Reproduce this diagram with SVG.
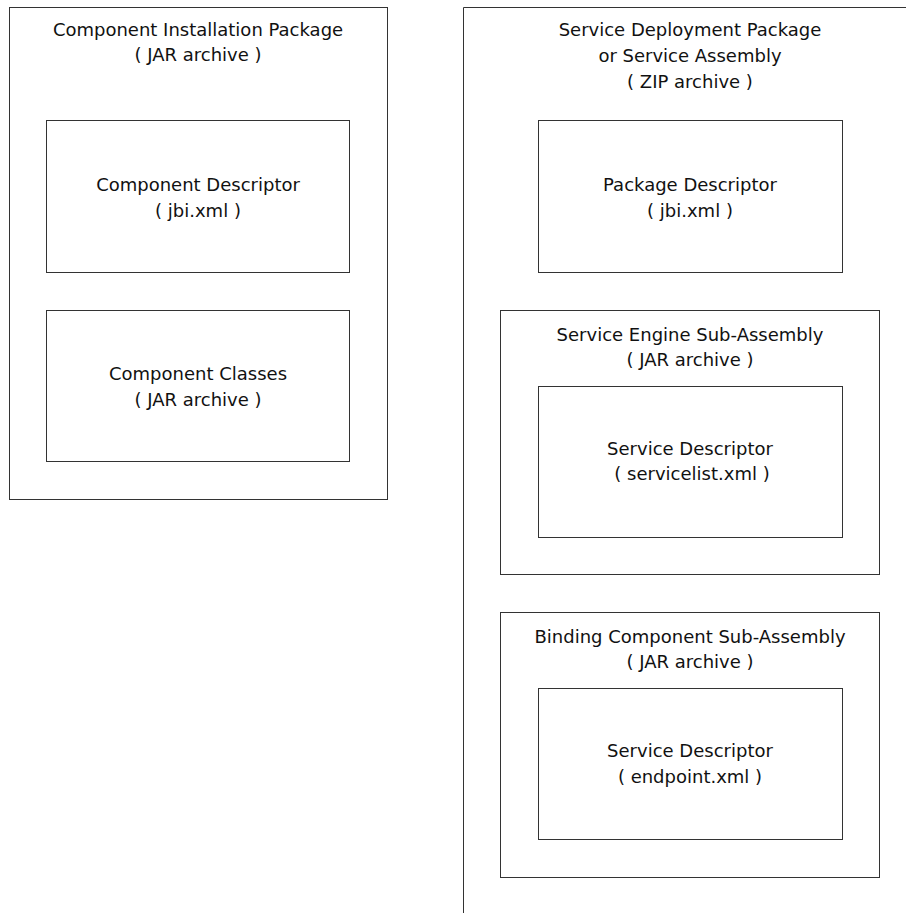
<svg xmlns="http://www.w3.org/2000/svg" width="906" height="913" viewBox="0 0 906 913">
<style>
.box{fill:none;stroke:#333;stroke-width:1}
.t{font-family:"DejaVu Sans",sans-serif;font-size:18px;fill:#111;text-anchor:middle}
</style>
<rect width="906" height="913" fill="#fff"/>
<g id="component-installation-package">
<rect class="box" x="9.5" y="7.5" width="378" height="492"/>
<text class="t" x="198" y="36">Component Installation Package</text>
<text class="t" x="198" y="61">( JAR archive )</text>
</g>
<g id="component-descriptor">
<rect class="box" x="46.5" y="120.5" width="303" height="152"/>
<text class="t" x="198" y="191">Component Descriptor</text>
<text class="t" x="198" y="217">( jbi.xml )</text>
</g>
<g id="component-classes">
<rect class="box" x="46.5" y="310.5" width="303" height="151"/>
<text class="t" x="198" y="380">Component Classes</text>
<text class="t" x="198" y="406">( JAR archive )</text>
</g>
<g id="service-deployment-package">
<path class="box" d="M463.5 913V7.5H906"/>
<text class="t" x="690" y="36">Service Deployment Package</text>
<text class="t" x="690" y="62">or Service Assembly</text>
<text class="t" x="690" y="88">( ZIP archive )</text>
</g>
<g id="package-descriptor">
<rect class="box" x="538.5" y="120.5" width="304" height="152"/>
<text class="t" x="690" y="191">Package Descriptor</text>
<text class="t" x="690" y="217">( jbi.xml )</text>
</g>
<g id="service-engine-sub-assembly">
<rect class="box" x="500.5" y="310.5" width="379" height="264"/>
<text class="t" x="690" y="341">Service Engine Sub-Assembly</text>
<text class="t" x="690" y="366">( JAR archive )</text>
</g>
<g id="service-descriptor-servicelist">
<rect class="box" x="538.5" y="386.5" width="304" height="151"/>
<text class="t" x="690" y="455">Service Descriptor</text>
<text class="t" x="692" y="480">( servicelist.xml )</text>
</g>
<g id="binding-component-sub-assembly">
<rect class="box" x="500.5" y="612.5" width="379" height="265"/>
<text class="t" x="690" y="643">Binding Component Sub-Assembly</text>
<text class="t" x="690" y="668">( JAR archive )</text>
</g>
<g id="service-descriptor-endpoint">
<rect class="box" x="538.5" y="688.5" width="304" height="151"/>
<text class="t" x="690" y="757">Service Descriptor</text>
<text class="t" x="690" y="783">( endpoint.xml )</text>
</g>
<g id="connectors"></g>
</svg>
